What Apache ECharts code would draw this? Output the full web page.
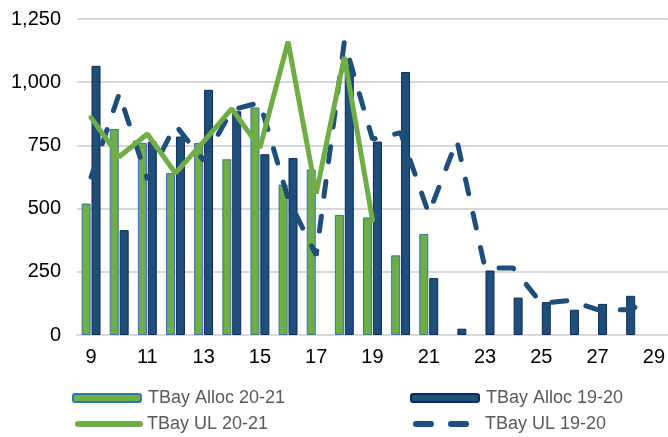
<!DOCTYPE html>
<html lang="en">
<head>
    <meta charset="UTF-8">
    <title>TBay</title>
    <script src="https://cdn.jsdelivr.net/npm/echarts@6/dist/echarts.min.js"></script>
    <style>
        html, body { margin: 0; padding: 0; background: #fff; }
        #main { width: 668px; height: 437px; }
    </style>
</head>
<body>
<div id="main"></div>
<script type="text/javascript">
// categories (week numbers)
var weeks = ['9','10','11','12','13','14','15','16','17','18','19','20','21','22','23','24','25','26','27','28','29'];
// bars
var allocNew = [520, 815, 760, 640, 760, 695, 900, 595, 655, 475, 465, 315, 400, null, null, null, null, null, null, null, null];
var allocOld = [1065, 415, 765, 785, 970, 885, 715, 700, null, 1065, 765, 1040, 225, 25, 255, 148, 130, 100, 123, 155, null];
// lines
var ulNew = [860, 705, 795, 640, 765, 895, 740, 1160, 560, 1100, 455, null, null, null, null, null, null, null, null, null, null];
var ulOld = [625, 955, 615, 830, 690, 890, 920, 540, 315, 1160, 775, 800, 480, 770, 265, 265, 125, 137, 100, 100, 130];

var font = "'Liberation Sans', Arial, sans-serif";
var green = '#70AD47';
var navy = '#1F4E79';

// one legend per item so that the 2x2 layout is exact
function legendAt(name, x, y, h, isLine) {
    var lg = {
        data: [name],
        left: x,
        top: y,
        padding: 0,
        itemWidth: 68,
        itemHeight: h,
        itemGap: 0,
        selectedMode: false,
        textStyle: { color: '#595959', fontSize: 18, fontFamily: font, padding: [0, 0, 0, 2] }
    };
    if (isLine) {
        lg.itemWidth = 62;
        lg.itemStyle = { opacity: 0 };   // hide the circle, keep the line
        lg.lineStyle = { width: 6 };
        lg.textStyle.padding = [0, 0, 0, 2];
    }
    return lg;
}

var myChart = echarts.init(document.getElementById('main'));
var option = {
    animation: false,
    grid: { left: 77, right: 0, top: 19, bottom: 102 },
    legend: [
        legendAt('TBay Alloc 20-21', 72, 389, 8, false),
        legendAt('TBay Alloc 19-20', 410, 389, 8, false),
        legendAt('TBay UL 20-21', 75, 415, 14, true),
        legendAt('TBay UL 19-20', 413, 415, 14, true)
    ],
    xAxis: {
        type: 'category',
        data: weeks,
        axisTick: { show: false },
        axisLine: { lineStyle: { color: '#D9D9D9', width: 2 } },
        axisLabel: { interval: 1, color: '#000', fontSize: 20, fontFamily: font, margin: 12 }
    },
    yAxis: {
        type: 'value',
        min: 0,
        max: 1250,
        interval: 250,
        axisLine: { show: false },
        axisTick: { show: false },
        splitLine: { lineStyle: { color: '#D9D9D9', width: 2 } },
        axisLabel: {
            color: '#000', fontSize: 20, fontFamily: font, margin: 16,
            formatter: function (v) { return v.toLocaleString('en-US'); }
        }
    },
    series: [
        {
            name: 'TBay Alloc 20-21',
            type: 'bar',
            data: allocNew,
            barWidth: 9,
            barGap: '10%',
            itemStyle: { color: green, borderColor: '#2E75B6', borderWidth: 1 }
        },
        {
            name: 'TBay Alloc 19-20',
            type: 'bar',
            data: allocOld,
            barWidth: 9,
            barGap: '10%',
            itemStyle: { color: navy, borderColor: '#0B2B5C', borderWidth: 1 }
        },
        {
            name: 'TBay UL 19-20',
            type: 'line',
            data: ulOld,
            symbol: 'none',
            lineStyle: { color: navy, width: 5, type: [15, 20], cap: 'round' },
            itemStyle: { color: navy }
        },
        {
            name: 'TBay UL 20-21',
            type: 'line',
            data: ulNew,
            symbol: 'none',
            lineStyle: { color: green, width: 5, cap: 'round' },
            itemStyle: { color: green }
        }
    ]
};
myChart.setOption(option);
</script>
</body>
</html>
